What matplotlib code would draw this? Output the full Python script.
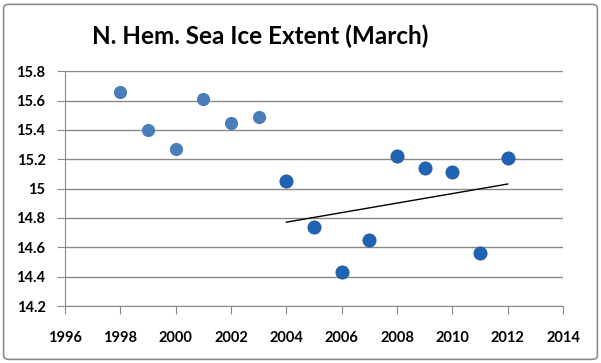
import matplotlib.pyplot as plt
import numpy as np
from matplotlib.patches import FancyBboxPatch

years_early = [1998, 1999, 2000, 2001, 2002, 2003]
extent_early = [15.66, 15.40, 15.27, 15.61, 15.45, 15.49]
years_late = [2004, 2005, 2006, 2007, 2008, 2009, 2010, 2011, 2012]
extent_late = [15.05, 14.74, 14.43, 14.65, 15.22, 15.14, 15.11, 14.56, 15.21]

plt.rcParams['font.family'] = ['Lato', 'DejaVu Sans']

fig = plt.figure(figsize=(6.01, 3.63), dpi=100)
ax = fig.add_axes([0.108, 0.157, 0.829, 0.647])

# chart border
fig.patches.append(FancyBboxPatch((0.006, 0.01), 0.988, 0.978, boxstyle='round,pad=0,rounding_size=0.01',
                                  transform=fig.transFigure, fill=False, edgecolor='#8c8c8c', linewidth=1.2))

ax.scatter(years_early, extent_early, s=90, color='#4a7ebb', zorder=3, linewidths=0)
ax.scatter(years_late, extent_late, s=90, color='#1f64b4', edgecolor='#2a5a94', linewidths=0.6, zorder=3)

# linear trend for 2004-2012
k, b = np.polyfit(years_late, extent_late, 1)
tx = np.array([years_late[0], years_late[-1]])
ax.plot(tx, k * tx + b, color='black', linewidth=1, zorder=2)

ax.set_xlim(1996, 2014)
ax.set_ylim(14.2, 15.8)
ax.set_xticks(range(1996, 2015, 2))
ax.set_yticks([14.2, 14.4, 14.6, 14.8, 15.0, 15.2, 15.4, 15.6, 15.8])
ax.set_yticklabels(['14.2', '14.4', '14.6', '14.8', '15', '15.2', '15.4', '15.6', '15.8'])
ax.grid(axis='y', color='#8a8a8a', linewidth=1)
ax.set_axisbelow(True)
for s in ['top', 'right']:
    ax.spines[s].set_visible(False)
for s in ['left', 'bottom']:
    ax.spines[s].set_color('#8a8a8a')
ax.tick_params(colors='#8a8a8a', length=6, labelcolor='black', labelsize=10.5)
ax.tick_params(axis='x', pad=12)
ax.tick_params(axis='y', pad=8)
for lab in ax.get_xticklabels() + ax.get_yticklabels():
    lab.set_fontweight('bold')

fig.text(0.433, 0.9, 'N. Hem. Sea Ice Extent (March)', ha='center', va='center',
         fontsize=17.5, fontweight='bold')

fig.savefig('out.png', dpi=100)
